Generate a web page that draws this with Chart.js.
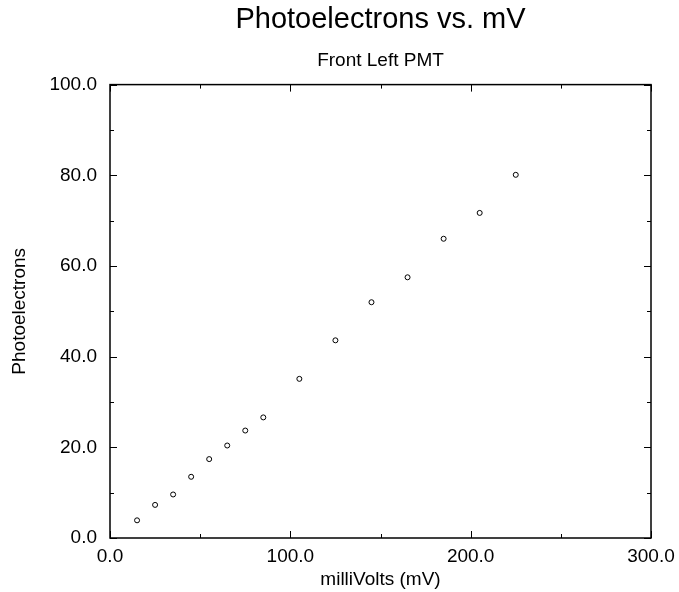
<!DOCTYPE html>
<html>
<head>
<meta charset="utf-8">
<script src="https://cdn.jsdelivr.net/npm/chart.js@4"></script>
<style>
  html, body { margin: 0; padding: 0; background: #fff; }
  #wrap { width: 679px; height: 592px; }
</style>
</head>
<body>
<div id="wrap"><canvas id="chart"></canvas></div>
<script>
const milliVolts = [15, 25, 35, 45, 55, 65, 75, 85, 105, 125, 145, 165, 185, 205, 225];
const photoelectrons = [3.9, 7.3, 9.6, 13.5, 17.4, 20.4, 23.7, 26.6, 35.1, 43.6, 52.0, 57.5, 66.0, 71.7, 80.1];
const xTicks = [0, 100, 200, 300];
const yTicks = [0, 20, 40, 60, 80, 100];

const FONT = "'Liberation Sans', Arial, Helvetica, sans-serif";

// box round the plot with inward major / minor ticks on all four sides
const frame = {
    id: 'frame',
    afterDatasetsDraw(chart) {
        const {ctx, chartArea: a, scales: {x, y}} = chart;
        ctx.save();
        ctx.strokeStyle = '#000';
        ctx.lineWidth = 1.5;
        ctx.strokeRect(a.left, a.top, a.right - a.left, a.bottom - a.top);
        ctx.lineWidth = 1;
        ctx.beginPath();
        for (let v = 0; v <= 300; v += 50) {
            const px = Math.round(x.getPixelForValue(v)) + 0.5;
            const len = v % 100 === 0 ? 7 : 4;
            ctx.moveTo(px, a.bottom); ctx.lineTo(px, a.bottom - len);
            ctx.moveTo(px, a.top); ctx.lineTo(px, a.top + len);
        }
        for (let v = 0; v <= 100; v += 10) {
            const py = Math.round(y.getPixelForValue(v)) + 0.5;
            const len = v % 20 === 0 ? 7 : 4;
            ctx.moveTo(a.left, py); ctx.lineTo(a.left + len, py);
            ctx.moveTo(a.right, py); ctx.lineTo(a.right - len, py);
        }
        ctx.stroke();
        ctx.restore();
    }
};

new Chart(document.getElementById('chart'), {
    type: 'scatter',
    data: {
        datasets: [{
            data: milliVolts.map((v, i) => ({x: v, y: photoelectrons[i]})),
            pointStyle: 'circle',
            pointRadius: 2.5,
            pointBorderWidth: 1,
            pointBorderColor: '#000',
            pointBackgroundColor: '#fff'
        }]
    },
    options: {
        responsive: true,
        maintainAspectRatio: false,
        animation: false,
        layout: { padding: { left: 0, right: 28, top: 0, bottom: 0 } },
        plugins: {
            legend: { display: false },
            tooltip: { enabled: false },
            title: {
                display: true,
                text: 'Photoelectrons vs. mV',
                fullSize: false,
                color: '#000',
                font: { family: FONT, size: 29, weight: 'normal' },
                padding: { top: 3, bottom: 6 }
            },
            subtitle: {
                display: true,
                text: 'Front Left PMT',
                fullSize: false,
                color: '#000',
                font: { family: FONT, size: 19, weight: 'normal' },
                padding: { top: 6, bottom: 12 }
            }
        },
        scales: {
            x: {
                type: 'linear',
                min: 0,
                max: 300,
                afterBuildTicks: (s) => { s.ticks = xTicks.map(v => ({value: v})); },
                afterFit: (s) => { s.height = 54; s.paddingRight = 0; s.paddingLeft = 0; },
                grid: { display: false, drawTicks: false },
                border: { display: false },
                ticks: {
                    color: '#000',
                    padding: 7,
                    maxRotation: 0,
                    font: { family: FONT, size: 19 },
                    callback: (v) => v.toFixed(1)
                },
                title: {
                    display: true,
                    text: 'milliVolts (mV)',
                    color: '#000',
                    font: { family: FONT, size: 19 },
                    padding: { top: 0, bottom: 1 }
                }
            },
            y: {
                type: 'linear',
                min: 0,
                max: 100,
                afterBuildTicks: (s) => { s.ticks = yTicks.map(v => ({value: v})); },
                afterFit: (s) => { s.width = 110; },
                grid: { display: false, drawTicks: false },
                border: { display: false },
                ticks: {
                    color: '#000',
                    padding: 13,
                    font: { family: FONT, size: 19 },
                    callback: (v) => v.toFixed(1)
                },
                title: {
                    display: true,
                    text: 'Photoelectrons',
                    color: '#000',
                    font: { family: FONT, size: 19 },
                    padding: { top: 8, bottom: 0 }
                }
            }
        }
    },
    plugins: [frame]
});
</script>
</body>
</html>
